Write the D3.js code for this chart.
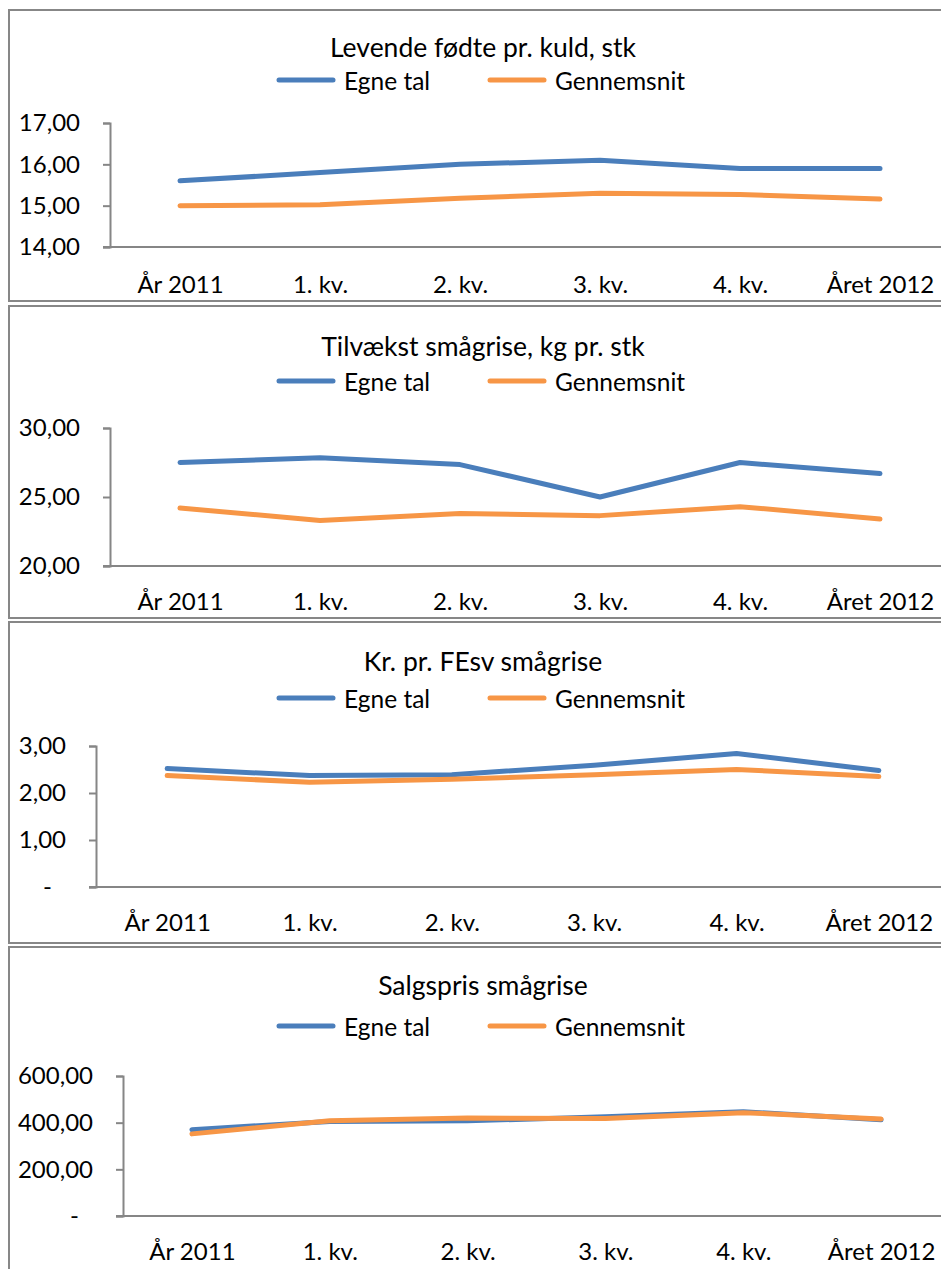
<!DOCTYPE html>
<html>
<head>
<meta charset="utf-8">
<script src="https://cdn.jsdelivr.net/npm/d3@7"></script>
<style>
  body { margin: 0; background: #fff; }
  svg text { font-family: Lato, "Open Sans", sans-serif; fill: #000; }
</style>
</head>
<body>
<div id="chart-container"></div>
<script>
// -------------------- DATA --------------------
const categories = ["År 2011", "1. kv.", "2. kv.", "3. kv.", "4. kv.", "Året 2012"];
const seriesNames = ["Egne tal", "Gennemsnit"];

const titles = [
  "Levende fødte pr. kuld, stk",
  "Tilvækst smågrise, kg pr. stk",
  "Kr. pr. FEsv smågrise",
  "Salgspris smågrise"
];

const kuldEgne = [15.6, 15.8, 16.0, 16.1, 15.9, 15.9];
const kuldSnit = [15.0, 15.02, 15.18, 15.3, 15.27, 15.16];

const tilvaekstEgne = [27.5, 27.85, 27.35, 25.0, 27.5, 26.7];
const tilvaekstSnit = [24.2, 23.3, 23.8, 23.65, 24.3, 23.4];

const feEgne = [2.52, 2.37, 2.39, 2.59, 2.84, 2.48];
const feSnit = [2.37, 2.23, 2.29, 2.39, 2.50, 2.35];

const prisEgne = [370, 405, 408, 425, 447, 412];
const prisSnit = [352, 408, 420, 418, 443, 416];

const yTicks = [
  [14, 15, 16, 17],
  [20, 25, 30],
  [0, 1, 2, 3],
  [0, 200, 400, 600]
];

const colors = ["#4a7ebb", "#f79646"];

// -------------------- LAYOUT --------------------
const W = 941, H = 1269;
const panels = [
  { top: 10,  bottom: 301,  axisX: 110, plotTop: 123,  plotBottom: 247,  title: 47,  legend: 80,   xLabel: 283,  egne: kuldEgne,      snit: kuldSnit },
  { top: 306, bottom: 618,  axisX: 110, plotTop: 428,  plotBottom: 566,  title: 346, legend: 381,  xLabel: 600,  egne: tilvaekstEgne, snit: tilvaekstSnit },
  { top: 622, bottom: 943,  axisX: 96,  plotTop: 746,  plotBottom: 887,  title: 661, legend: 698,  xLabel: 921,  egne: feEgne,        snit: feSnit },
  { top: 947, bottom: 1300, axisX: 123, plotTop: 1076, plotBottom: 1216, title: 985, legend: 1026, xLabel: 1250, egne: prisEgne,      snit: prisSnit }
];
const plotRight = 950;

const locale = d3.formatLocale({ decimal: ",", thousands: ".", grouping: [3], currency: ["", ""] });
const fmt = locale.format(".2f");

const svg = d3.select("#chart-container")
  .append("svg")
  .attr("width", W)
  .attr("height", H);

panels.forEach((p, i) => {
  const g = svg.append("g");

  // frame
  g.append("rect")
    .attr("x", 9).attr("y", p.top)
    .attr("width", 1000).attr("height", p.bottom - p.top)
    .attr("fill", "#fff")
    .attr("stroke", "#878787")
    .attr("stroke-width", 2);

  // title
  g.append("text")
    .attr("x", 483).attr("y", p.title)
    .attr("text-anchor", "middle")
    .attr("dominant-baseline", "central")
    .style("font-size", "26.5px")
    .text(titles[i]);

  // legend
  const legendX = [279, 490];
  seriesNames.forEach((name, k) => {
    g.append("line")
      .attr("x1", legendX[k]).attr("x2", legendX[k] + 54)
      .attr("y1", p.legend).attr("y2", p.legend)
      .attr("stroke", colors[k])
      .attr("stroke-width", 5)
      .attr("stroke-linecap", "round");
    g.append("text")
      .attr("x", legendX[k] + 65).attr("y", p.legend)
      .attr("dominant-baseline", "central")
      .style("font-size", "24.5px")
      .text(name);
  });

  const ticks = yTicks[i];
  const x = d3.scalePoint()
    .domain(categories)
    .range([p.axisX, plotRight])
    .padding(0.5);

  const y = d3.scaleLinear()
    .domain([ticks[0], ticks[ticks.length - 1]])
    .range([p.plotBottom, p.plotTop]);

  // y axis
  const yAxis = g.append("g")
    .attr("transform", `translate(${p.axisX},0)`)
    .call(d3.axisLeft(y)
      .tickValues(ticks)
      .tickSize(7)
      .tickPadding(23)
      .tickFormat(d => d === 0 ? "-" : fmt(d)));
  yAxis.select(".domain").attr("stroke", "#868686").attr("stroke-width", 2);
  yAxis.selectAll(".tick line").attr("stroke", "#868686").attr("stroke-width", 2);
  yAxis.selectAll(".tick text")
    .style("font-size", "24px")
    .style("font-family", "Lato, sans-serif")
    .attr("fill", "#000")
    .attr("dx", d => d === 0 ? -14 : 0);

  // x axis
  const xAxis = g.append("g")
    .attr("transform", `translate(0,${p.plotBottom})`)
    .call(d3.axisBottom(x).tickSize(0).tickPadding(0));
  xAxis.select(".domain").remove();
  g.append("line")
    .attr("x1", p.axisX - 7).attr("x2", 1000)
    .attr("y1", p.plotBottom).attr("y2", p.plotBottom)
    .attr("stroke", "#868686").attr("stroke-width", 2);
  xAxis.selectAll(".tick text")
    .attr("y", p.xLabel - p.plotBottom)
    .attr("dy", null)
    .attr("dominant-baseline", "central")
    .style("font-size", "24px")
    .style("font-family", "Lato, sans-serif")
    .attr("fill", "#000");

  // lines
  const line = d3.line()
    .x((d, j) => x(categories[j]))
    .y(d => y(d));

  [p.egne, p.snit].forEach((vals, k) => {
    g.append("path")
      .datum(vals)
      .attr("fill", "none")
      .attr("stroke", colors[k])
      .attr("stroke-width", 5)
      .attr("stroke-linecap", "round")
      .attr("stroke-linejoin", "round")
      .attr("d", line);
  });
});
</script>
</body>
</html>
